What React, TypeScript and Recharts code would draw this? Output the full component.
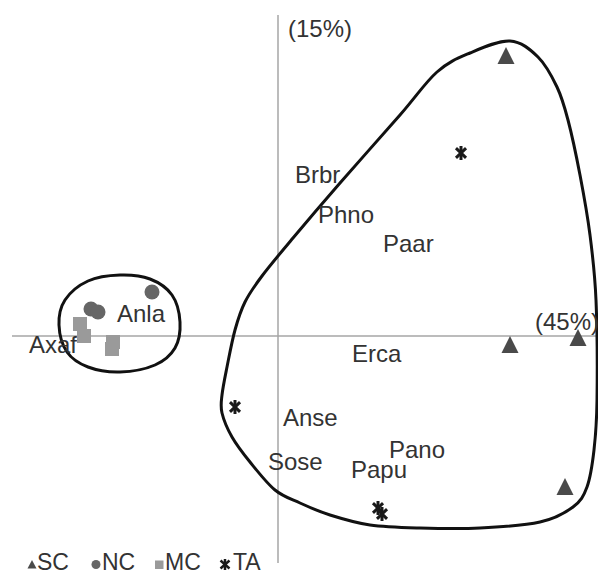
import React from 'react';
import { ComposedChart, XAxis, YAxis, Scatter, Line, ReferenceLine } from 'recharts';

// Sample scores (PC1 45%, PC2 15%)
const SC = [
  { x: 22.8, y: 28.0 },
  { x: 23.2, y: -0.9 },
  { x: 30.0, y: -0.2 },
  { x: 28.7, y: -15.1 },
];
const NC = [
  { x: -12.6, y: 4.4 },
  { x: -18.7, y: 2.7 },
  { x: -18.0, y: 2.4 },
];
const MC = [
  { x: -19.8, y: 1.2 },
  { x: -19.4, y: 0.0 },
  { x: -16.5, y: -0.6 },
  { x: -16.6, y: -1.3 },
];
const TA = [
  { x: 18.3, y: 18.3 },
  { x: -4.3, y: -7.1 },
  { x: 10.0, y: -17.2 },
  { x: 10.4, y: -17.8 },
];

// Species labels
const species = [
  { x: 1.7, y: 15.3, name: 'Brbr' },
  { x: 4.0, y: 11.3, name: 'Phno' },
  { x: 10.5, y: 8.4, name: 'Paar' },
  { x: -16.1, y: 1.4, name: 'Anla' },
  { x: -24.9, y: -1.7, name: 'Axaf' },
  { x: 7.4, y: -2.6, name: 'Erca' },
  { x: 0.5, y: -9.0, name: 'Anse' },
  { x: -1.0, y: -13.4, name: 'Sose' },
  { x: 11.1, y: -12.2, name: 'Pano' },
  { x: 7.3, y: -14.2, name: 'Papu' },
];

const axisTitles = [
  { x: 1.0, y: 29.9, name: '(15%)' },
  { x: 25.7, y: 0.6, name: '(45%)' },
];

// Group outlines
const hullBig = [
  { x: 23.2, y: 29.5 }, { x: 26.0, y: 27.9 }, { x: 27.9, y: 24.9 }, { x: 29.0, y: 21.6 },
  { x: 30.2, y: 16.1 }, { x: 31.2, y: 10.1 }, { x: 31.8, y: 3.6 }, { x: 31.9, y: -6.4 },
  { x: 31.6, y: -11.4 }, { x: 30.9, y: -15.1 }, { x: 29.5, y: -17.1 }, { x: 26.2, y: -18.6 },
  { x: 20.2, y: -19.2 }, { x: 14.2, y: -19.2 }, { x: 9.2, y: -18.9 }, { x: 5.2, y: -17.9 },
  { x: 2.2, y: -16.7 }, { x: -0.3, y: -15.4 }, { x: -2.8, y: -12.6 }, { x: -4.6, y: -10.1 },
  { x: -5.6, y: -7.7 }, { x: -5.6, y: -5.9 }, { x: -5.1, y: -3.1 }, { x: -4.3, y: 0.6 },
  { x: -3.3, y: 3.4 }, { x: -1.6, y: 6.0 }, { x: 1.5, y: 9.8 }, { x: 6.2, y: 15.3 },
  { x: 12.2, y: 22.1 }, { x: 15.9, y: 26.4 }, { x: 19.2, y: 28.3 },
];
const hullSmall = [
  { x: -15.8, y: 6.1 }, { x: -12.8, y: 5.7 }, { x: -10.6, y: 4.1 }, { x: -9.8, y: 1.4 },
  { x: -10.3, y: -1.2 }, { x: -12.3, y: -2.9 }, { x: -15.8, y: -3.6 }, { x: -19.0, y: -3.1 },
  { x: -21.1, y: -1.6 }, { x: -21.9, y: 1.1 }, { x: -21.3, y: 3.6 }, { x: -19.0, y: 5.5 },
];

const legendItems = ['SC', 'NC', 'MC', 'TA'];

const FONT = '"Liberation Sans", Arial, sans-serif';
const TEXT = '#333333';

const closedCatmull: any = (context: any) => {
  let pts: number[][] = [];
  return {
    areaStart() {},
    areaEnd() {},
    lineStart() {
      pts = [];
    },
    point(x: number, y: number) {
      pts.push([+x, +y]);
    },
    lineEnd() {
      const n = pts.length;
      if (!n) return;
      context.moveTo(pts[0][0], pts[0][1]);
      for (let i = 0; i < n; i++) {
        const p0 = pts[(i - 1 + n) % n];
        const p1 = pts[i];
        const p2 = pts[(i + 1) % n];
        const p3 = pts[(i + 2) % n];
        context.bezierCurveTo(
          p1[0] + (p2[0] - p0[0]) / 6,
          p1[1] + (p2[1] - p0[1]) / 6,
          p2[0] - (p3[0] - p1[0]) / 6,
          p2[1] - (p3[1] - p1[1]) / 6,
          p2[0],
          p2[1]
        );
      }
      context.closePath();
    },
  };
};

const Tri = (p: any) => (
  <path d={`M${p.cx},${p.cy - 9} L${p.cx + 8.5},${p.cy + 8} L${p.cx - 8.5},${p.cy + 8} Z`} fill="#4a4a4a" />
);
const Circ = (p: any) => <circle cx={p.cx} cy={p.cy} r={7.5} fill="#666666" />;
const Sq = (p: any) => <rect x={p.cx - 7} y={p.cy - 7} width={14} height={14} fill="#9a9a9a" />;
const Star = (p: any) => {
  const r = 7;
  const a = 0.8;
  const dx = r * Math.sin(a);
  const dy = r * Math.cos(a);
  return (
    <g stroke="#1a1a1a" strokeWidth={3} strokeLinecap="butt">
      <line x1={p.cx} y1={p.cy - r} x2={p.cx} y2={p.cy + r} />
      <line x1={p.cx - dx} y1={p.cy - dy} x2={p.cx + dx} y2={p.cy + dy} />
      <line x1={p.cx + dx} y1={p.cy - dy} x2={p.cx - dx} y2={p.cy + dy} />
    </g>
  );
};
const Label = (p: any) => (
  <text x={p.cx} y={p.cy} fontSize={24} fontFamily={FONT} fill={TEXT} textAnchor="start">
    {p.payload.name}
  </text>
);

export default function App() {
  return (
    <div style={{ position: 'absolute', left: 0, top: 0, width: 598, height: 575, background: '#fff' }}>
      <ComposedChart width={598} height={575} margin={{ top: 0, right: 0, bottom: 0, left: 0 }}>
        <XAxis type="number" dataKey="x" domain={[-27.8, 32.0]} allowDataOverflow hide />
        <YAxis type="number" dataKey="y" domain={[-23.9, 33.6]} allowDataOverflow hide />
        <ReferenceLine
          segment={[{ x: 0, y: 32.1 }, { x: 0, y: -22.7 }]}
          stroke="#a6a6a6"
          strokeWidth={1.5}
        />
        <ReferenceLine
          segment={[{ x: -26.6, y: 0 }, { x: 31.9, y: 0 }]}
          stroke="#a6a6a6"
          strokeWidth={1.5}
        />
        <Line
          data={hullBig}
          dataKey="y"
          type={closedCatmull}
          stroke="#111111"
          strokeWidth={3}
          dot={false}
          activeDot={false}
          isAnimationActive={false}
        />
        <Line
          data={hullSmall}
          dataKey="y"
          type={closedCatmull}
          stroke="#111111"
          strokeWidth={3}
          dot={false}
          activeDot={false}
          isAnimationActive={false}
        />
        <Scatter data={species} shape={Label} isAnimationActive={false} />
        <Scatter data={axisTitles} shape={Label} isAnimationActive={false} />
        <Scatter data={SC} shape={Tri} isAnimationActive={false} />
        <Scatter data={NC} shape={Circ} isAnimationActive={false} />
        <Scatter data={MC} shape={Sq} isAnimationActive={false} />
        <Scatter data={TA} shape={Star} isAnimationActive={false} />
      </ComposedChart>
      <svg
        width={598}
        height={575}
        style={{ position: 'absolute', left: 0, top: 0, pointerEvents: 'none' }}
      >
        <path d="M32,560 L36.5,568.5 L27.5,568.5 Z" fill="#4a4a4a" />
        <text x={37} y={570} fontSize={23} fontFamily={FONT} fill={TEXT}>{legendItems[0]}</text>
        <circle cx={96} cy={564.5} r={4.5} fill="#666666" />
        <text x={102} y={570} fontSize={23} fontFamily={FONT} fill={TEXT}>{legendItems[1]}</text>
        <rect x={155} y={560.5} width={8.5} height={8.5} fill="#9a9a9a" />
        <text x={165} y={570} fontSize={23} fontFamily={FONT} fill={TEXT}>{legendItems[2]}</text>
        <g stroke="#1a1a1a" strokeWidth={2.5}>
          <line x1={225} y1={559} x2={225} y2={570} />
          <line x1={220.5} y1={560.5} x2={229.5} y2={568.5} />
          <line x1={229.5} y1={560.5} x2={220.5} y2={568.5} />
        </g>
        <text x={233} y={570} fontSize={23} fontFamily={FONT} fill={TEXT}>{legendItems[3]}</text>
      </svg>
    </div>
  );
}
